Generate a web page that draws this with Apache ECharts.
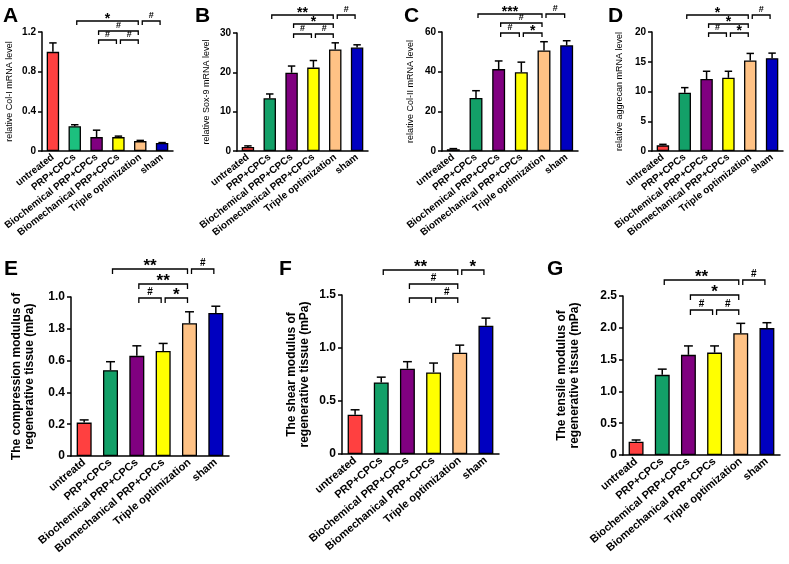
<!DOCTYPE html>
<html>
<head>
<meta charset="utf-8">
<script src="https://cdn.jsdelivr.net/npm/echarts@6/dist/echarts.min.js"></script>
<style>
html, body { margin: 0; padding: 0; background: #fff; }
#main { width: 789px; height: 564px; }
</style>
</head>
<body>
<div id="main"></div>
<script>
// group names (the lower row keeps the original spelling)
var groupsTop = ['untreated', 'PRP+CPCs', 'Biochemical PRP+CPCs', 'Biomechanical PRP+CPCs', 'Triple optimization', 'sham'];
var groupsE = ['untreatd', 'PRP+CPCs', 'Biochemical PRP+CPCs', 'Biomechanical PRP+CPCs', 'Triple optimization', 'sham'];
var groupsF = ['untreated', 'PRP+CPCs', 'Biochemical PRP+CPCs', 'Biomechanical PRP+CPCs', 'Triple optimization', 'sham'];
var groupsG = ['untreatd', 'PRP+CPCs', 'Biochemical PRP+CPCs', 'Biomechanical PRP+CPCs', 'Triple optimization', 'sham'];
var barColors = ['#ff4040', '#13a068', '#800080', '#ffff00', '#ffc285', '#0000c0'];
var barColorsA = ['#ff4040', '#1cc07e', '#800080', '#ffff00', '#ffc285', '#0000c0'];

// means and SD (upper error only)
var colI = [1.0, 0.25, 0.14, 0.14, 0.10, 0.08];
var colIErr = [0.09, 0.015, 0.07, 0.01, 0.007, 0.005];
var sox9 = [1.0, 13.4, 19.9, 21.2, 25.8, 26.3];
var sox9Err = [0.3, 1.1, 1.7, 1.8, 1.7, 0.7];
var colII = [0.9, 26.7, 41.3, 39.7, 50.7, 53.3];
var colIIErr = [0.3, 3.7, 4.1, 5.1, 4.4, 2.3];
var aggrecan = [0.95, 9.8, 12.1, 12.3, 15.2, 15.6];
var aggrecanErr = [0.17, 0.85, 1.3, 1.1, 1.2, 0.85];
var compression = [0.21, 0.54, 0.63, 0.66, 0.835, 0.90];
var compressionErr = [0.017, 0.053, 0.063, 0.048, 0.072, 0.042];
var shear = [0.37, 0.675, 0.805, 0.77, 0.955, 1.21];
var shearErr = [0.047, 0.05, 0.066, 0.088, 0.072, 0.072];
var tensile = [0.21, 1.26, 1.575, 1.61, 1.915, 1.995];
var tensileErr = [0.026, 0.09, 0.14, 0.105, 0.155, 0.085];

// tick labels (E keeps the original "1.8")
var ticksA = ['0', '0.4', '0.8', '1.2'];
var ticksB = ['0', '10', '20', '30'];
var ticksC = ['0', '20', '40', '60'];
var ticksD = ['0', '5', '10', '15', '20'];
var ticksE = ['0', '0.2', '0.4', '0.6', '1.8', '1.0'];
var ticksF = ['0', '0.5', '1.0', '1.5'];
var ticksG = ['0', '0.5', '1.0', '1.5', '2.0', '2.5'];

// significance brackets: [from group, to group, level, mark]
var bracketsA = [[1, 4, 2, '*'], [4, 5, 2, '#'], [2, 4, 1, '#'], [2, 3, 0, '#'], [3, 4, 0, '#']];
var bracketsB = [[1, 4, 2, '**'], [4, 5, 2, '#'], [2, 4, 1, '*'], [2, 3, 0, '#'], [3, 4, 0, '#']];
var bracketsC = [[1, 4, 2, '***'], [4, 5, 2, '#'], [2, 4, 1, '#'], [2, 3, 0, '#'], [3, 4, 0, '*']];
var bracketsD = [[1, 4, 2, '*'], [4, 5, 2, '#'], [2, 4, 1, '*'], [2, 3, 0, '#'], [3, 4, 0, '*']];
var bracketsE = [[1, 4, 2, '**'], [4, 5, 2, '#'], [2, 4, 1, '**'], [2, 3, 0, '#'], [3, 4, 0, '*']];
var bracketsF = [[1, 4, 2, '**'], [4, 5, 2, '*'], [2, 4, 1, '#'], [2, 3, 0, ''], [3, 4, 0, '#']];
var bracketsG = [[1, 4, 2, '**'], [4, 5, 2, '#'], [2, 4, 1, '*'], [2, 3, 0, '#'], [3, 4, 0, '#']];

var FONT = 'Liberation Sans, Arial, sans-serif';

var panels = [
  { letter: 'A', cats: groupsTop, mean: colI, err: colIErr, ticks: ticksA, max: 1.2, interval: 0.4, colors: barColorsA,
    name: 'relative Col-I mRNA level', brackets: bracketsA, levels: [-8, 1, 11],
    grid: { left: 42, top: 32, width: 131, height: 119 }, gap: 26, big: false, lx: 3, ly: 6 },
  { letter: 'B', cats: groupsTop, mean: sox9, err: sox9Err, ticks: ticksB, max: 30, interval: 10, colors: barColors,
    name: 'relative Sox-9 mRNA level', brackets: bracketsB, levels: [-1, 9, 18],
    grid: { left: 237, top: 33, width: 131, height: 118 }, gap: 24, big: false, lx: 195, ly: 6 },
  { letter: 'C', cats: groupsTop, mean: colII, err: colIIErr, ticks: ticksC, max: 60, interval: 20, colors: barColors,
    name: 'relative Col-II mRNA level', brackets: bracketsC, levels: [-1, 9, 18],
    grid: { left: 442, top: 32, width: 136, height: 119 }, gap: 25, big: false, lx: 404, ly: 6 },
  { letter: 'D', cats: groupsTop, mean: aggrecan, err: aggrecanErr, ticks: ticksD, max: 20, interval: 5, colors: barColors,
    name: 'relative aggrecan mRNA level', brackets: bracketsD, levels: [-1, 8, 17],
    grid: { left: 652, top: 32, width: 131, height: 119 }, gap: 26, big: false, lx: 608, ly: 6 },
  { letter: 'E', cats: groupsE, mean: compression, err: compressionErr, ticks: ticksE, max: 1.0, interval: 0.2, colors: barColors,
    name: 'The compression modulus of\nregenerative tissue (mPa)', brackets: bracketsE, levels: [-1, 13, 28],
    grid: { left: 71, top: 297, width: 158, height: 159 }, gap: 35, big: true, lx: 4, ly: 259 },
  { letter: 'F', cats: groupsF, mean: shear, err: shearErr, ticks: ticksF, max: 1.5, interval: 0.5, colors: barColors,
    name: 'The shear modulus of\nregenerative tissue (mPa)', brackets: bracketsF, levels: [-3, 11, 25],
    grid: { left: 342, top: 295, width: 157, height: 159 }, gap: 31, big: true, lx: 279, ly: 259 },
  { letter: 'G', cats: groupsG, mean: tensile, err: tensileErr, ticks: ticksG, max: 2.5, interval: 0.5, colors: barColors,
    name: 'The tensile modulus of\nregenerative tissue (mPa)', brackets: bracketsG, levels: [-14, 1, 16],
    grid: { left: 623, top: 296, width: 157, height: 159 }, gap: 42, big: true, lx: 547, ly: 259 }
];

var grids = [], xAxes = [], yAxes = [], series = [], graphics = [];

panels.forEach(function (p, k) {
  grids.push(p.grid);
  xAxes.push({
    type: 'category', gridIndex: k, data: p.cats,
    axisLine: { lineStyle: { color: '#000', width: 1.5 } },
    axisTick: { alignWithLabel: true, length: 4, lineStyle: { color: '#000', width: 1.5 } },
    axisLabel: {
      interval: 0, rotate: p.big ? 40 : 38, margin: 5, color: '#000', fontFamily: FONT,
      fontSize: p.big ? 11 : 10, fontWeight: 'bold'
    }
  });
  yAxes.push({
    type: 'value', gridIndex: k, min: 0, max: p.max, interval: p.interval,
    name: p.name, nameLocation: 'middle', nameGap: p.gap,
    nameTextStyle: { color: '#000', fontFamily: FONT, fontSize: p.big ? 12 : 9,
      fontWeight: p.big ? 'bold' : 'normal', lineHeight: 13 },
    splitLine: { show: false },
    axisLine: { show: true, lineStyle: { color: '#000', width: 1.5 } },
    axisTick: { show: true, length: 4, lineStyle: { color: '#000', width: 1.5 } },
    axisLabel: {
      color: '#000', fontFamily: FONT, fontWeight: 'bold', fontSize: p.big ? 12 : 10, margin: 6,
      formatter: (function (t) { return function (v, i) { return t[i]; }; })(p.ticks)
    }
  });

  series.push({
    type: 'bar', xAxisIndex: k, yAxisIndex: k, barWidth: '57%',
    data: p.mean.map(function (v, i) {
      return { value: v, itemStyle: { color: p.colors[i] } };
    }),
    itemStyle: { borderColor: '#000', borderWidth: 1.3 }
  });

  series.push({
    type: 'custom', xAxisIndex: k, yAxisIndex: k, z: 3,
    data: p.mean.map(function (v, i) { return [i, v, p.err[i]]; }),
    renderItem: function (params, api) {
      var x = api.value(0), m = api.value(1), e = api.value(2);
      var a = api.coord([x, m]), b = api.coord([x, m + e]);
      var cap = api.size([1, 0])[0] * 0.17;
      var st = { stroke: '#000', lineWidth: 1.5 };
      return { type: 'group', children: [
        { type: 'line', shape: { x1: a[0], y1: a[1], x2: b[0], y2: b[1] }, style: st },
        { type: 'line', shape: { x1: b[0] - cap, y1: b[1], x2: b[0] + cap, y2: b[1] }, style: st }
      ] };
    }
  });

  series.push({
    type: 'custom', xAxisIndex: k, yAxisIndex: k, z: 4,
    data: p.brackets.map(function (b) { return [b[0], 0]; }),
    renderItem: function (params, api) {
      var b = p.brackets[params.dataIndex];
      var top = api.coord([0, p.max])[1];
      var y = top - p.levels[b[2]];
      var x1 = api.coord([b[0], 0])[0] + 2;
      var x2 = api.coord([b[1], 0])[0] - 2;
      var tk = p.big ? 5 : 4;
      var star = b[3].indexOf('*') >= 0;
      var fs = star ? (p.big ? 17 : 14) : (p.big ? 10 : 9);
      var off = star ? (p.big ? 3 : 2) : (p.big ? 6 : 5);
      return { type: 'group', children: [
        { type: 'polyline', shape: { points: [[x1, y + tk], [x1, y], [x2, y], [x2, y + tk]] },
          style: { stroke: '#000', lineWidth: 1.3, fill: null } },
        { type: 'text', x: (x1 + x2) / 2, y: y - off,
          style: { text: b[3], textAlign: 'center', textVerticalAlign: 'middle',
            font: 'bold ' + fs + 'px ' + FONT, fill: '#000' } }
      ] };
    }
  });

  graphics.push({
    type: 'text', left: p.lx, top: p.ly,
    style: { text: p.letter, font: 'bold 21px ' + FONT, fill: '#000' }
  });
});

var chart = echarts.init(document.getElementById('main'));
chart.setOption({
  backgroundColor: '#fff',
  animation: false,
  grid: grids,
  xAxis: xAxes,
  yAxis: yAxes,
  series: series,
  graphic: graphics
});
</script>
</body>
</html>
